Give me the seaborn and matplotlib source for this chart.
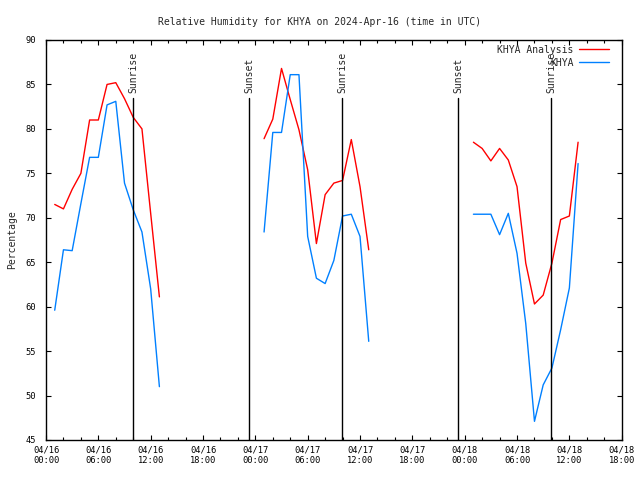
import pandas as pd
import seaborn as sns
import matplotlib.pyplot as plt
import matplotlib.dates as mdates
import matplotlib.transforms as mtransforms

# hourly segments (first value at the start time)
seg_starts = ["2024-04-16 01:00", "2024-04-17 01:00", "2024-04-18 01:00"]
analysis_rh = [
    [71.5, 71.0, 73.2, 75.0, 81.0, 81.0, 85.0, 85.2, 83.4, 81.3, 80.0, 70.5, 61.1],
    [78.9, 81.1, 86.8, 83.3, 79.9, 75.4, 67.1, 72.6, 73.9, 74.2, 78.8, 73.5, 66.4],
    [78.5, 77.8, 76.4, 77.8, 76.5, 73.5, 64.9, 60.3, 61.3, 64.9, 69.8, 70.2, 78.5],
]
obs_rh = [
    [59.6, 66.4, 66.3, 71.6, 76.8, 76.8, 82.7, 83.1, 73.9, 70.9, 68.4, 62.0, 51.0],
    [68.4, 79.6, 79.6, 86.1, 86.1, 67.9, 63.2, 62.6, 65.2, 70.2, 70.4, 67.9, 56.1],
    [70.4, 70.4, 70.4, 68.1, 70.5, 66.0, 58.1, 47.1, 51.2, 53.1, 57.4, 62.1, 76.1],
]
sun_times = ["2024-04-16 09:58", "2024-04-16 23:17", "2024-04-17 09:56",
             "2024-04-17 23:17", "2024-04-18 09:55"]
sun_labels = ["Sunrise", "Sunset", "Sunrise", "Sunset", "Sunrise"]

# build long table
rows = []
for i, start in enumerate(seg_starts):
    t0 = pd.Timestamp(start)
    for name, vals in [("KHYA Analysis", analysis_rh[i]), ("KHYA", obs_rh[i])]:
        for j, v in enumerate(vals):
            rows.append({"time": t0 + pd.Timedelta(hours=j), "rh": v,
                         "series": name, "segment": i})
df = pd.DataFrame(rows)

sns.set_style("ticks")
plt.rcParams["font.family"] = ["DejaVu Sans Mono"]
plt.rcParams["font.size"] = 7

fig = plt.figure(figsize=(6.4, 4.8), dpi=100)
ax = fig.add_axes([46 / 640, 40 / 480, (621.7 - 46) / 640, 400 / 480])

sns.lineplot(data=df, x="time", y="rh", hue="series", units="segment",
             estimator=None, hue_order=["KHYA Analysis", "KHYA"],
             palette={"KHYA Analysis": "#ff0000", "KHYA": "#0080ff"},
             linewidth=1, ax=ax)

# sunrise / sunset markers
trans = mtransforms.blended_transform_factory(ax.transData, ax.transAxes)
for t, lab in zip(sun_times, sun_labels):
    ts = pd.Timestamp(t)
    ax.axvline(ts, ymin=0, ymax=0.855, color="black", lw=1)
    ax.text(ts, 0.868, lab, rotation=90, ha="center", va="bottom",
            transform=trans, fontsize=7)

ax.set_xlim(pd.Timestamp("2024-04-16 00:00"), pd.Timestamp("2024-04-18 18:00"))
ax.set_ylim(45, 90)
ax.set_yticks(range(45, 91, 5))
ax.xaxis.set_major_locator(mdates.HourLocator(byhour=[0, 6, 12, 18]))
ax.xaxis.set_minor_locator(mdates.HourLocator(interval=2))
ax.xaxis.set_major_formatter(mdates.DateFormatter("%m/%d\n%H:%M"))
ax.tick_params(which="both", direction="in", top=True, right=True,
               colors="black", labelsize=6.3)
ax.tick_params(which="major", length=3.5, width=0.8)
ax.tick_params(axis="x", which="major", pad=4)
ax.tick_params(axis="y", which="major", pad=7)
ax.tick_params(which="minor", length=2, width=0.8)
for s in ax.spines.values():
    s.set_linewidth(1)
    s.set_color("black")

ax.set_xlabel("")
ax.set_ylabel("Percentage", fontsize=7, labelpad=6)
fig.suptitle("Relative Humidity for KHYA on 2024-Apr-16 (time in UTC)",
             fontsize=7, y=0.965)

ax.legend(loc="upper right", bbox_to_anchor=(1 - 8 / 575.7, 1.0),
          frameon=False, markerfirst=False, fontsize=7,
          handlelength=3.1, handletextpad=0.5, labelspacing=0.3,
          borderaxespad=0.3, borderpad=0.2, title=None)

fig.savefig("out.png", dpi=100)
